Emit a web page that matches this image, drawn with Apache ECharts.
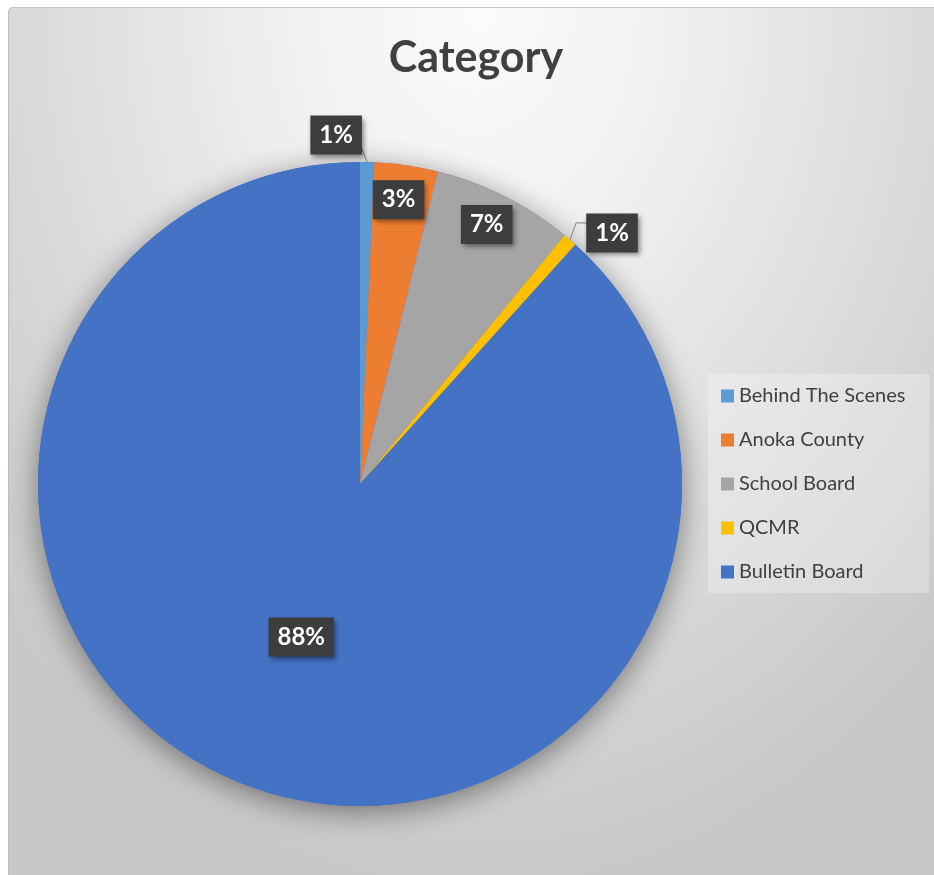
<!DOCTYPE html>
<html><head><meta charset="utf-8">
<script src="https://cdn.jsdelivr.net/npm/echarts@6/dist/echarts.min.js"></script>
<style>
html,body{margin:0;padding:0;background:#fff;overflow:hidden;}
#bg{position:absolute;left:8px;top:7px;width:940px;height:880px;box-sizing:border-box;border-left:1px solid #bdbdbd;border-top:1px solid #c4c4c4;border-top-left-radius:5px;
background:radial-gradient(ellipse 70% 100% at 50% 0%, #fbfbfb 0%, #f0f0f0 30%, #dcdcdc 65%, #c8c8c8 100%);}
#chart{position:absolute;left:0;top:0;width:934px;height:875px;}
</style></head>
<body><div id="bg"></div><div id="chart"></div>
<script>
const categories = ['Behind The Scenes', 'Anoka County', 'School Board', 'QCMR', 'Bulletin Board'];
const counts = [2, 9, 20, 2, 250];
const titleText = 'Category';

const sliceColors = ['#5B9BD5', '#ED7D31', '#A5A5A5', '#FFC000', '#4472C4'];
const outsideLabels = [0, 3];
const insideOffsets = {1: [15, -122], 2: [53, -113], 4: [0, 0]};
const FONT = 'Lato, "Open Sans", sans-serif';

const data = categories.map(function (c, i) {
  const isOut = outsideLabels.indexOf(i) >= 0;
  return {
    name: c,
    value: counts[i],
    itemStyle: {color: sliceColors[i]},
    label: isOut ? {position: 'outside'} : {position: 'inside', offset: insideOffsets[i]},
    labelLine: {show: isOut}
  };
});

const chart = echarts.init(document.getElementById('chart'), null, {renderer: 'canvas'});
chart.setOption({
  animation: false,
  backgroundColor: 'transparent',
  title: {
    text: titleText,
    left: 471,
    textAlign: 'center',
    top: 32,
    textStyle: {fontFamily: FONT, fontWeight: 'bold', fontSize: 43, color: '#404040'}
  },
  legend: {
    orient: 'vertical',
    left: 708,
    top: 374,
    padding: [12, 24, 11, 13],
    itemWidth: 13,
    itemHeight: 13,
    itemGap: 24,
    icon: 'rect',
    selectedMode: false,
    backgroundColor: 'rgba(255,255,255,0.28)',
    data: categories,
    textStyle: {fontFamily: FONT, fontSize: 20, color: '#404040'}
  },
  series: [
    {
      type: 'pie',
      silent: true,
      center: [360, 484],
      radius: 322,
      z: 1,
      label: {show: false},
      labelLine: {show: false},
      itemStyle: {color: '#4472C4', shadowBlur: 30, shadowOffsetY: 6, shadowColor: 'rgba(0,0,0,0.45)'},
      data: [{name: '', value: 1}]
    },
    {
      type: 'pie',
      name: titleText,
      center: [360, 484],
      radius: 322,
      z: 2,
      startAngle: 90,
      clockwise: true,
      avoidLabelOverlap: false,
      silent: true,
      itemStyle: {borderWidth: 0},
      label: {
        show: true,
        formatter: function (p) { return Math.round(p.percent) + '%'; },
        fontFamily: FONT,
        fontWeight: 'bold',
        fontSize: 24,
        color: '#ffffff',
        backgroundColor: '#3d3d3d',
        padding: [8, 9, 7, 9],
        shadowColor: 'rgba(0,0,0,0.45)',
        shadowBlur: 5,
        shadowOffsetX: 2,
        shadowOffsetY: 3
      },
      labelLine: {
        length: 15,
        length2: 10,
        lineStyle: {color: '#7f7f7f', width: 1}
      },
      labelLayout: function (p) {
        const pts = p.labelLinePoints;
        if (!pts || outsideLabels.indexOf(p.dataIndex) < 0) return {};
        const s = pts[0];
        if (p.dataIndex === 0) {
          return {x: s[0] - 31, y: s[1] - 27, align: 'center', verticalAlign: 'middle',
            labelLinePoints: [s, [s[0] - 6, s[1] - 15], [s[0] - 6, s[1] - 15]]};
        }
        return {x: s[0] + 42, y: s[1] - 7, align: 'center', verticalAlign: 'middle',
          labelLinePoints: [s, [s[0] + 6, s[1] - 17], [s[0] + 18, s[1] - 17]]};
      },
      data: data
    }
  ]
});
</script>
</body></html>
